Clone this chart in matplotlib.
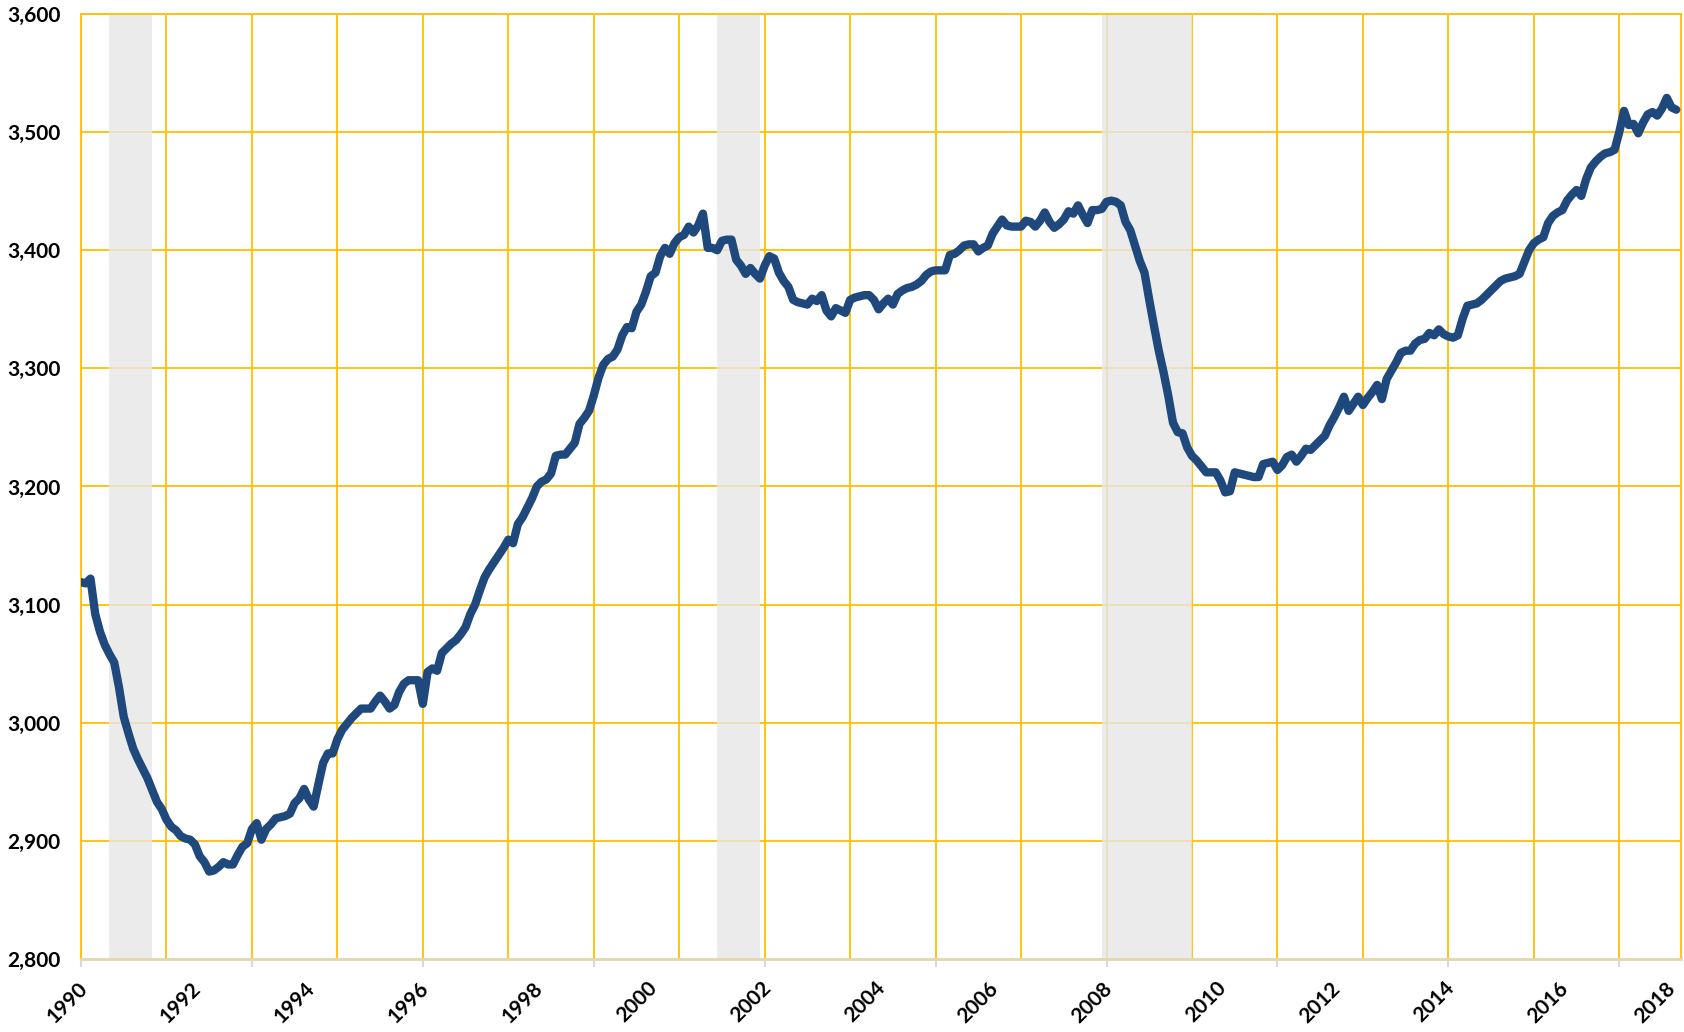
import matplotlib.pyplot as plt
import matplotlib.transforms as mtransforms
import numpy as np

plt.rcParams['font.family'] = ['Lato', 'DejaVu Sans']

# monthly values, Jan 1990 - Jan 2018
values = [
    3119, 3118, 3122, 3092, 3077, 3066, 3058, 3051, 3030, 3005, 2991, 2978,  # 1990
    2969, 2961, 2953, 2943, 2933, 2927, 2918, 2912, 2909, 2904, 2902, 2901,  # 1991
    2897, 2887, 2882, 2874, 2875, 2878, 2882, 2880, 2880, 2888, 2895, 2898,  # 1992
    2910, 2915, 2901, 2910, 2914, 2919, 2920, 2921, 2923, 2932, 2936, 2944,  # 1993
    2935, 2929, 2948, 2966, 2974, 2974, 2986, 2994, 2999, 3004, 3008, 3012,  # 1994
    3012, 3012, 3018, 3023, 3018, 3012, 3015, 3026, 3033, 3036, 3036, 3036,  # 1995
    3016, 3043, 3046, 3044, 3059, 3063, 3067, 3070, 3075, 3081, 3092, 3100,  # 1996
    3112, 3123, 3130, 3136, 3142, 3148, 3155, 3152, 3168, 3174, 3182, 3190,  # 1997
    3200, 3204, 3206, 3211, 3226, 3227, 3227, 3232, 3237, 3253, 3258, 3264,  # 1998
    3277, 3292, 3303, 3308, 3310, 3316, 3328, 3335, 3334, 3348, 3354, 3365,  # 1999
    3378, 3381, 3395, 3402, 3397, 3406, 3411, 3413, 3420, 3415, 3421, 3431,  # 2000
    3402, 3402, 3400, 3408, 3409, 3409, 3392, 3387, 3380, 3385, 3380, 3376,  # 2001
    3387, 3395, 3393, 3381, 3374, 3369, 3358, 3356, 3355, 3354, 3359, 3357,  # 2002
    3362, 3349, 3344, 3351, 3349, 3347, 3358, 3360, 3361, 3362, 3362, 3358,  # 2003
    3350, 3355, 3359, 3354, 3363, 3366, 3368, 3369, 3371, 3374, 3379, 3382,  # 2004
    3383, 3383, 3383, 3396, 3397, 3400, 3404, 3405, 3405, 3399, 3402, 3404,  # 2005
    3414, 3420, 3426, 3421, 3420, 3420, 3420, 3425, 3424, 3420, 3425, 3432,  # 2006
    3424, 3419, 3422, 3426, 3433, 3431, 3438, 3430, 3423, 3434, 3434, 3435,  # 2007
    3441, 3442, 3441, 3438, 3424, 3417, 3404, 3391, 3381, 3358, 3336, 3315,  # 2008
    3297, 3277, 3254, 3246, 3245, 3233, 3226, 3222, 3217, 3212, 3212, 3212,  # 2009
    3205, 3195, 3196, 3212, 3211, 3210, 3209, 3208, 3208, 3219, 3220, 3221,  # 2010
    3214, 3218, 3225, 3227, 3221, 3226, 3232, 3231, 3235, 3239, 3243, 3252,  # 2011
    3259, 3267, 3276, 3264, 3270, 3276, 3269, 3275, 3280, 3286, 3274, 3291,  # 2012
    3298, 3305, 3313, 3315, 3315, 3321, 3324, 3325, 3330, 3328, 3333, 3329,  # 2013
    3327, 3326, 3328, 3342, 3353, 3354, 3355, 3358, 3362, 3366, 3370, 3374,  # 2014
    3376, 3377, 3378, 3380, 3390, 3400, 3406, 3409, 3411, 3423, 3429, 3432,  # 2015
    3434, 3442, 3447, 3451, 3446, 3460, 3470, 3475, 3479, 3482, 3483, 3485,  # 2016
    3500, 3518, 3506, 3507, 3499, 3508, 3515, 3517, 3514, 3520, 3529, 3521,  # 2017
    3519,                                                                    # 2018
]

# recessions (month index from Jan 1990)
rec_start = [6, 134, 215]
rec_end = [15, 143, 234]

year_labels = [str(y) for y in range(1990, 2019, 2)]
label_pos = np.arange(0, 337, 24)
y_ticks = list(range(2800, 3601, 100))

gold = '#FFC000'
x = np.arange(len(values))

fig = plt.figure(figsize=(16.84, 10.32), dpi=100)
ax = fig.add_axes([81/1684, 1-959/1032, 1600/1684, 945/1032])

for i in range(0, 337, 18):
    ax.axvline(i, color=gold, lw=1.3, zorder=1)
for v in y_ticks[1:]:
    ax.axhline(v, color=gold, lw=1.3, zorder=1)

for s, e in zip(rec_start, rec_end):
    ax.axvspan(s, e, color='#E6E6E6', alpha=0.8, lw=0, zorder=2)

ax.plot(x, values, color='#1F497D', lw=6, solid_joinstyle='round',
        solid_capstyle='round', zorder=3)

ax.set_xlim(0, 337)
ax.set_ylim(2800, 3600)

# year labels: rotated text under the axis
ax.set_xticks([])
ax.set_xticks(np.arange(0, 337, 36), minor=True)
ax.tick_params(axis='x', which='minor', length=6, width=1.5, color='#D9D9D9',
               labelbottom=False)
base = mtransforms.blended_transform_factory(ax.transData, ax.transAxes)
for k, (pos, lab) in enumerate(zip(label_pos, year_labels)):
    dx = -4 if k < len(year_labels) - 1 else -11
    tr = base + mtransforms.ScaledTranslation(dx/100, -19/100, fig.dpi_scale_trans)
    ax.text(pos, 0, lab, transform=tr, rotation=45, ha='right', va='top',
            rotation_mode='anchor', fontsize=15, fontweight='bold')

ax.set_yticks(y_ticks)
ax.set_yticklabels([f'{v:,}' for v in y_ticks], fontsize=15, fontweight='bold')
ax.tick_params(axis='y', length=0, pad=15)

for side in ['left', 'top', 'right']:
    ax.spines[side].set_color(gold)
    ax.spines[side].set_linewidth(1.3)
ax.spines['bottom'].set_color('#E2D6AE')
ax.spines['bottom'].set_linewidth(2)

fig.savefig('out.png', dpi=100)
